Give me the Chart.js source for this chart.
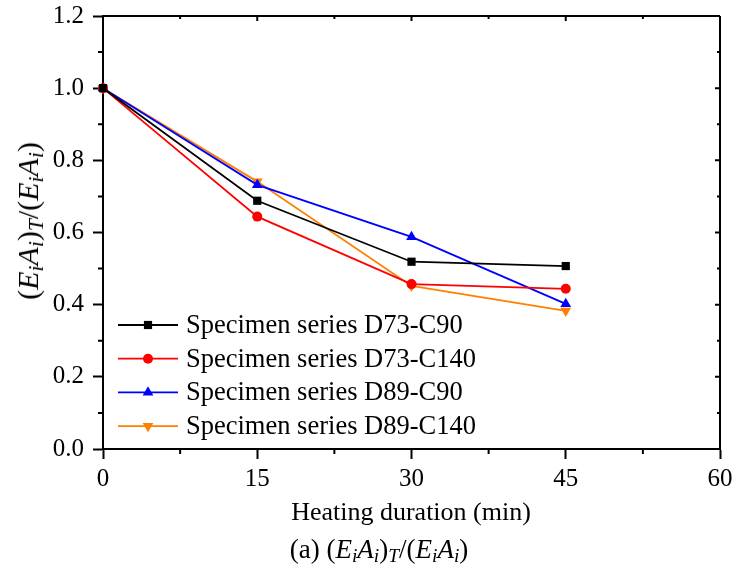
<!DOCTYPE html>
<html>
<head>
<meta charset="utf-8">
<script src="https://cdn.jsdelivr.net/npm/chart.js@4.4.1/dist/chart.umd.min.js"></script>
<style>
  body { margin: 0; background: #fff; }
  #wrap { position: relative; width: 737px; height: 581px; font-family: "Liberation Serif", "Times New Roman", serif; color: #000; }
  .lbl { position: absolute; white-space: nowrap; font-size: 26px; line-height: 1; }
  sub { font-size: 0.72em; vertical-align: -0.25em; line-height: 0; }
</style>
</head>
<body>
<div id="wrap">
  <canvas id="myChart" width="737" height="581"></canvas>
  <div class="lbl" id="ytitle" style="left:28px; top:221px; font-size:30px; transform: translate(-50%,-50%) rotate(-90deg);">(<i>E</i><sub><i>i</i></sub><i>A</i><sub><i>i</i></sub>)<sub><i>T</i></sub>/(<i>E</i><sub><i>i</i></sub><i>A</i><sub><i>i</i></sub>)</div>
  <div class="lbl" style="left:411px; top:512px; transform: translate(-50%,-50%);">Heating duration (min)</div>
  <div class="lbl" style="left:379px; top:549px; font-size:27px; transform: translate(-50%,-50%);">(a) (<i>E<sub>i</sub></i><i>A<sub>i</sub></i>)<sub><i>T</i></sub>/(<i>E<sub>i</sub></i><i>A<sub>i</sub></i>)</div>
</div>
<script>
// data
const durations = [0, 15, 30, 45];
const seriesNames = ['Specimen series D73-C90', 'Specimen series D73-C140', 'Specimen series D89-C90', 'Specimen series D89-C140'];
const d73c90 = [1.0, 0.688, 0.519, 0.507];
const d73c140 = [1.0, 0.644, 0.457, 0.444];
const d89c90 = [1.0, 0.732, 0.588, 0.402];
const d89c140 = [1.0, 0.741, 0.452, 0.383];
const xTicks = [0, 15, 30, 45, 60];
const yTicks = [0, 0.2, 0.4, 0.6, 0.8, 1.0, 1.2];

const FONT = '"Liberation Serif", "Times New Roman", serif';

// marker radius per style so they come out about the same size
const radii = { rect: 5.8, circle: 5, triangle: 6.2 };

function series(label, values, color, style, rotation) {
  return {
    label,
    data: durations.map((x, i) => ({ x, y: values[i] })),
    borderColor: color,
    backgroundColor: color,
    borderWidth: 1.8,
    pointStyle: style,
    pointRotation: rotation || 0,
    pointRadius: radii[style],
    pointHoverRadius: radii[style],
    pointBorderWidth: 0,
    clip: false,
    tension: 0
  };
}

const data = {
  datasets: [
    series(seriesNames[0], d73c90, '#000000', 'rect'),
    series(seriesNames[1], d73c140, '#ff0000', 'circle'),
    series(seriesNames[2], d89c90, '#0000ff', 'triangle'),
    series(seriesNames[3], d89c140, '#ff8000', 'triangle', 180)
  ]
};

// frame, minor ticks and legend
const framePlugin = {
  id: 'frame',
  afterDatasetsDraw(chart) {
    const { ctx, chartArea: a, scales: { x, y } } = chart;
    ctx.save();
    ctx.strokeStyle = '#000';
    ctx.lineWidth = 2;
    ctx.beginPath();
    ctx.moveTo(a.left, a.top); ctx.lineTo(a.right, a.top);
    ctx.moveTo(a.right, a.top); ctx.lineTo(a.right, a.bottom);
    // minor ticks
    for (let v = 7.5; v < 60; v += 15) {
      const px = x.getPixelForValue(v);
      ctx.moveTo(px, a.bottom); ctx.lineTo(px, a.bottom + 5);
      ctx.moveTo(px, a.top); ctx.lineTo(px, a.top + 3);
    }
    xTicks.forEach(v => {
      const px = x.getPixelForValue(v);
      ctx.moveTo(px, a.top); ctx.lineTo(px, a.top + 5);
    });
    for (let v = 0.1; v < 1.2; v += 0.2) {
      const py = y.getPixelForValue(v);
      ctx.moveTo(a.left, py); ctx.lineTo(a.left - 5, py);
      ctx.moveTo(a.right, py); ctx.lineTo(a.right - 3, py);
    }
    yTicks.forEach(v => {
      const py = y.getPixelForValue(v);
      ctx.moveTo(a.right, py); ctx.lineTo(a.right - 5, py);
    });
    ctx.stroke();

    // legend
    const x0 = a.left + 15, x1 = a.left + 75, xm = (x0 + x1) / 2;
    ctx.font = '26.5px ' + FONT;
    ctx.textBaseline = 'middle';
    chart.data.datasets.forEach((ds, i) => {
      const ry = 325 + i * 33.7;
      ctx.strokeStyle = ds.borderColor;
      ctx.lineWidth = 1.8;
      ctx.beginPath();
      ctx.moveTo(x0, ry); ctx.lineTo(x1, ry);
      ctx.stroke();
      ctx.fillStyle = ds.backgroundColor;
      Chart.helpers.drawPoint(ctx, { pointStyle: ds.pointStyle, radius: ds.pointRadius, rotation: ds.pointRotation, borderWidth: 0 }, xm, ry);
      ctx.fillStyle = '#000';
      ctx.fillText(ds.label, a.left + 83, ry + 1);
    });
    ctx.restore();
  }
};

// config
const config = {
  type: 'line',
  data,
  options: {
    responsive: false,
    animation: false,
    events: [],
    layout: { padding: { top: 16, right: 17, left: 0, bottom: 0 } },
    plugins: { legend: { display: false }, tooltip: { enabled: false } },
    scales: {
      x: {
        type: 'linear',
        min: 0, max: 60,
        afterFit: s => { s.height = 132; s.paddingLeft = 0; s.paddingRight = 0; },
        afterBuildTicks: s => { s.ticks = xTicks.map(v => ({ value: v })); },
        grid: { drawOnChartArea: false, drawTicks: true, tickLength: 10, tickWidth: 2, tickColor: '#000' },
        border: { color: '#000', width: 2 },
        ticks: { color: '#000', padding: 5, maxRotation: 0, font: { family: FONT, size: 25 } }
      },
      y: {
        type: 'linear',
        min: 0, max: 1.2,
        afterFit: s => { s.width = 103; s.paddingTop = 0; s.paddingBottom = 0; },
        afterBuildTicks: s => { s.ticks = yTicks.map(v => ({ value: v })); },
        grid: { drawOnChartArea: false, drawTicks: true, tickLength: 10, tickWidth: 2, tickColor: '#000' },
        border: { color: '#000', width: 2 },
        ticks: { color: '#000', padding: 9, font: { family: FONT, size: 25 }, callback: v => v.toFixed(1) }
      }
    }
  },
  plugins: [framePlugin]
};

// render init block
const myChart = new Chart(document.getElementById('myChart'), config);
</script>
</body>
</html>
